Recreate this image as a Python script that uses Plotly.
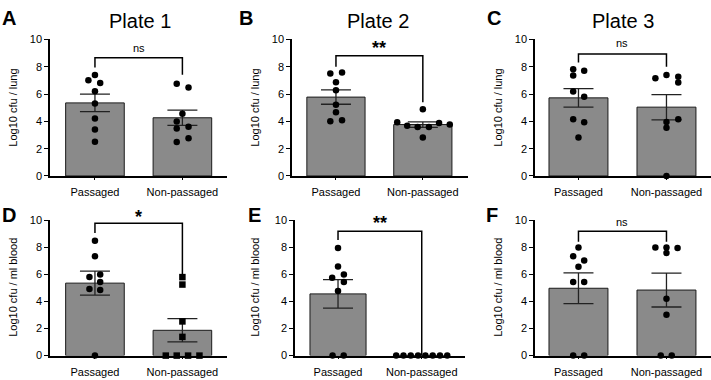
import numpy as np
import plotly.graph_objects as go

categories = ["Passaged", "Non-passaged"]
tick_vals = [0, 2, 4, 6, 8, 10]
tick_text = ["0", "2", "4", "6", "8", "10"]

# Panel values (log10 cfu)
a_passaged = [7.4, 7.0, 6.8, 6.2, 5.3, 4.2, 3.4, 2.5]
a_nonpassaged = [6.75, 6.47, 4.55, 3.98, 3.6, 3.48, 2.77, 2.49]
b_passaged = [7.51, 7.58, 6.87, 6.28, 5.21, 4.67, 4.0, 4.08]
b_nonpassaged = [4.88, 3.94, 3.67, 3.58, 3.58, 3.87, 3.77, 2.82]
c_passaged = [7.82, 7.7, 7.35, 6.18, 5.8, 4.15, 3.93, 2.82]
c_nonpassaged = [7.16, 7.39, 7.27, 6.85, 3.96, 4.15, 3.53, 0.0]
d_passaged = [8.48, 7.33, 5.79, 5.98, 5.43, 4.91, 4.84, 0.0]
d_nonpassaged = [5.79, 5.24, 2.52, 1.38, 0.0, 0.0, 0.0, 0.0]
e_passaged = [7.93, 6.57, 5.74, 5.98, 5.43, 4.76, 0.0, 0.0]
e_nonpassaged = [0.0, 0.0, 0.0, 0.0, 0.0, 0.0, 0.0, 0.0]
f_passaged = [7.98, 7.33, 7.02, 6.55, 5.43, 5.43, 0.0, 0.0]
f_nonpassaged = [7.98, 7.98, 7.93, 7.57, 4.19, 3.02, 0.0, 0.0]

# Horizontal jitter of the dots (position only, category units)
a_p_off = [0, -0.075, 0.06, 0, 0, 0, 0, 0]
a_n_off = [-0.065, 0.07, 0, -0.065, 0.07, -0.065, 0.07, -0.065]
b_p_off = [-0.065, 0.07, 0, 0, 0, 0, -0.065, 0.07]
b_n_off = [0, -0.295, -0.18, -0.06, 0.07, 0.187, 0.31, 0]
c_p_off = [-0.06, 0.065, -0.06, -0.06, 0.065, -0.06, 0.065, 0]
c_n_off = [-0.126, 0, 0.134, 0.134, 0, 0.134, 0, 0]
d_p_off = [0, 0, -0.063, 0.06, 0.06, -0.063, 0.06, 0]
d_n_off = [0, 0, 0, 0, -0.19, -0.065, 0.065, 0.195]
e_p_off = [0, 0, -0.07, 0.07, 0.07, 0, -0.065, 0.068]
e_n_off = [-0.305, -0.218, -0.131, -0.044, 0.044, 0.131, 0.218, 0.305]
f_p_off = [0, -0.06, 0.065, 0, -0.06, 0.065, -0.06, 0.065]
f_n_off = [-0.126, 0, 0.126, 0, 0, 0, -0.065, 0.06]

panel_letters = ["A", "B", "C", "D", "E", "F"]
plate_titles = ["Plate 1", "Plate 2", "Plate 3"]
y_titles = ["Log10 cfu / lung", "Log10 cfu / ml blood"]
sig_labels = ["ns", "**", "ns", "*", "**", "ns"]
# bracket: (left leg bottom, top, right leg bottom, label y)
brackets = [
    (7.94, 8.65, 7.42, 9.36),
    (8.0, 8.8, 5.4, 9.4),
    (8.3, 8.93, 7.99, 9.76),
    (9.05, 9.76, 6.02, 10.2),
    (8.52, 9.17, 0.0, 9.75),
    (8.4, 9.17, 8.4, 9.88),
]

panels = [
    (a_passaged, a_nonpassaged, a_p_off, a_n_off, ("circle", "circle")),
    (b_passaged, b_nonpassaged, b_p_off, b_n_off, ("circle", "circle")),
    (c_passaged, c_nonpassaged, c_p_off, c_n_off, ("circle", "circle")),
    (d_passaged, d_nonpassaged, d_p_off, d_n_off, ("circle", "square")),
    (e_passaged, e_nonpassaged, e_p_off, e_n_off, ("circle", "circle")),
    (f_passaged, f_nonpassaged, f_p_off, f_n_off, ("circle", "circle")),
]

W, H = 711, 380
# pixel geometry: (y-axis x, x-axis right end, y of value 10, y of value 0, x-range)
geom = [
    (50, 227, 34.5, 175.5, [-0.514, 1.51]),
    (292, 468, 34.5, 175.5, [-0.506, 1.52]),
    (535, 711, 34.5, 175.5, [-0.494, 1.506]),
    (50, 227, 221, 361, [-0.514, 1.51]),
    (295, 465, 221, 361, [-0.514, 1.517]),
    (535, 711, 221, 361, [-0.494, 1.506]),
]

FONT = "Arial, Liberation Sans, sans-serif"
fig = go.Figure()
layout = dict(
    width=W, height=H, margin=dict(l=0, r=0, t=0, b=0),
    paper_bgcolor="white", plot_bgcolor="white", showlegend=False,
    font=dict(family=FONT, color="black", size=11),
)
annotations = []

for i, (pv, nv, po, no, syms) in enumerate(panels):
    k = "" if i == 0 else str(i + 1)
    xa, ya = "x" + k, "y" + k
    x0p, x1p, ytop, ybot, xr = geom[i]
    groups = [np.array(pv), np.array(nv)]
    means = [g.mean() for g in groups]
    sems = [g.std(ddof=1) / np.sqrt(len(g)) for g in groups]
    fig.add_trace(go.Bar(
        x=[0, 1], y=means, width=0.67, xaxis=xa, yaxis=ya,
        marker=dict(color="#8a8a8a", line=dict(color="#1a1a1a", width=1)),
        error_y=dict(type="data", array=sems, visible=True, color="#222222",
                     thickness=1.3, width=15),
    ))
    # bracket
    lb, top, rb, ly = brackets[i]
    fig.add_trace(go.Scatter(
        x=[0, 0, 1, 1], y=[lb, top, top, rb], mode="lines", xaxis=xa, yaxis=ya,
        line=dict(color="black", width=1.5), cliponaxis=False, hoverinfo="skip",
    ))
    # dots
    for j, (vals, offs) in enumerate([(pv, po), (nv, no)]):
        fig.add_trace(go.Scatter(
            x=[j + o for o in offs], y=vals, mode="markers", xaxis=xa, yaxis=ya,
            marker=dict(symbol=syms[j], size=6.5, color="black", line=dict(width=0)),
            cliponaxis=False,
        ))
    xdom = [x0p / W, min(x1p / W, 1.0)]
    ydom = [1 - ybot / H, 1 - ytop / H]
    layout["xaxis" + k] = dict(
        domain=xdom, range=xr, anchor=ya, tickmode="array", tickvals=[0, 1],
        ticktext=categories, showline=True, linecolor="black", linewidth=1.5,
        ticks="outside", ticklen=2, tickwidth=1.2, tickcolor="black",
        ticklabelstandoff=3,
        showgrid=False, zeroline=False, tickfont=dict(size=11, family=FONT),
        fixedrange=True,
    )
    layout["yaxis" + k] = dict(
        domain=ydom, range=[0, 10], anchor=xa, tickmode="array",
        tickvals=tick_vals, ticktext=tick_text, showline=True, linecolor="black",
        linewidth=1.5, ticks="outside", ticklen=4, tickwidth=1.2, tickcolor="black",
        showgrid=False, zeroline=False, tickfont=dict(size=11, family=FONT),
        fixedrange=True,
    )
    # significance label (paper coords so it may sit above the axis range)
    bold = sig_labels[i] != "ns"
    sx = xdom[0] + (0.5 - xr[0]) / (xr[1] - xr[0]) * (xdom[1] - xdom[0])
    sy = ydom[0] + ly / 10.0 * (ydom[1] - ydom[0])
    annotations.append(dict(
        x=sx, y=sy, xref="paper", yref="paper",
        text=("<b>" + sig_labels[i] + "</b>") if bold else sig_labels[i],
        showarrow=False, font=dict(size=18 if bold else 11, family=FONT),
        xanchor="center", yanchor="middle",
    ))
    # y axis title
    title_x = [13, 255, 498][i % 3]
    annotations.append(dict(
        x=title_x / W, y=1 - (ytop + ybot) / 2 / H, xref="paper", yref="paper",
        text=y_titles[i // 3], textangle=-90, showarrow=False,
        font=dict(size=11, family=FONT), xanchor="center", yanchor="middle",
    ))

# panel letters
letter_pos = [(9, 12), (246, 12), (494, 12), (9, 216), (254, 216), (492, 216)]
for (lx, ly), lt in zip(letter_pos, panel_letters):
    annotations.append(dict(
        x=lx / W, y=1 - ly / H, xref="paper", yref="paper", text="<b>" + lt + "</b>",
        showarrow=False, font=dict(size=20, family=FONT),
        xanchor="center", yanchor="middle",
    ))
# plate titles
for px, t in zip([140, 378, 623], plate_titles):
    annotations.append(dict(
        x=px / W, y=1 - 15 / H, xref="paper", yref="paper", text=t,
        showarrow=False, font=dict(size=20, family=FONT),
        xanchor="center", yanchor="middle",
    ))

layout["annotations"] = annotations
fig.update_layout(**layout)
fig.write_html("out.html", config={"displayModeBar": False},
               post_script="document.body.style.margin='0';")
